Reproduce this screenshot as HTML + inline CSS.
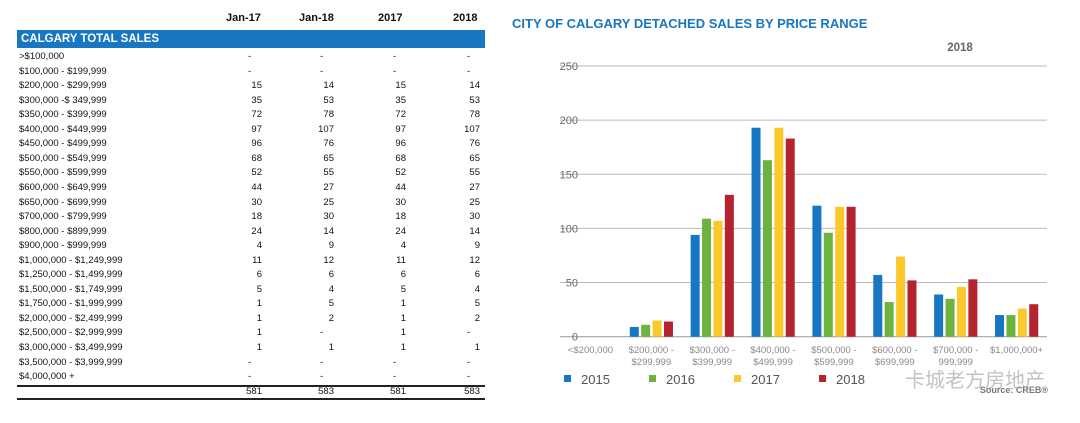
<!DOCTYPE html>
<html><head><meta charset="utf-8"><style>
body{margin:0;width:1080px;height:423px;background:#fff;position:relative;overflow:hidden;font-family:"Liberation Sans",sans-serif;color:#111}
.a{position:absolute;white-space:nowrap}
.h{font-weight:bold;font-size:11px;top:12px}
.c{font-size:9.5px}
</style></head><body>
<div class="a h" style="left:226px">Jan-17</div>
<div class="a h" style="left:299px">Jan-18</div>
<div class="a h" style="left:378px">2017</div>
<div class="a h" style="left:453px">2018</div>
<div class="a" style="left:17px;top:30px;width:468px;height:18px;background:#1877c2;color:#fff;font-weight:bold;font-size:11.5px;line-height:18px;padding-left:4px;box-sizing:border-box">CALGARY TOTAL SALES</div>
<div id="tbl"></div>
<div class="a" style="left:17px;top:385px;width:468px;height:1.5px;background:#222"></div>
<div class="a" style="left:17px;top:398px;width:468px;height:1.5px;background:#222"></div>
<div class="a" style="left:512px;top:16px;font-size:13px;font-weight:bold;color:#1877c2">CITY OF CALGARY DETACHED SALES BY PRICE RANGE</div>
<svg class="a" style="left:0;top:0" width="1080" height="423" id="ch"></svg>
<script>
const ranges=[">$100,000","$100,000 - $199,999","$200,000 - $299,999","$300,000 -$ 349,999","$350,000 - $399,999","$400,000 - $449,999","$450,000 - $499,999","$500,000 - $549,999","$550,000 - $599,999","$600,000 - $649,999","$650,000 - $699,999","$700,000 - $799,999","$800,000 - $899,999","$900,000 - $999,999","$1,000,000 - $1,249,999","$1,250,000 - $1,499,999","$1,500,000 - $1,749,999","$1,750,000 - $1,999,999","$2,000,000 - $2,499,999","$2,500,000 - $2,999,999","$3,000,000 - $3,499,999","$3,500,000 - $3,999,999","$4,000,000 +"];
const jan17=[0,0,15,35,72,97,96,68,52,44,30,18,24,4,11,6,5,1,1,1,1,0,0];
const jan18=[0,0,14,53,78,107,76,65,55,27,25,30,14,9,12,6,4,5,2,0,1,0,0];
const y2017=[0,0,15,35,72,97,96,68,52,44,30,18,24,4,11,6,5,1,1,1,1,0,0];
const y2018=[0,0,14,53,78,107,76,65,55,27,25,30,14,9,12,6,4,5,2,0,1,0,0];
const totals=[581,583,581,583];
const tbl=document.getElementById('tbl');
const colR=[262,334,406,480],colD=[248,320,393,467];
const cols=[jan17,jan18,y2017,y2018];
function cell(txt,left,top,right){const d=document.createElement('div');d.className='a c';d.textContent=txt;d.style.top=top+'px';if(right!=null){d.style.right=(1080-right)+'px'}else d.style.left=left+'px';tbl.appendChild(d);return d;}
ranges.forEach((r,i)=>{const t=51+i*14.55;
 const l=cell(r,19,t);
 
 
 cols.forEach((c,j)=>{const v=c[i];const d=v?cell(String(v),0,t,colR[j]):cell('-',colD[j],t);
  
  });});
totals.forEach((v,j)=>{const d=cell(String(v),0,386,colR[j]);
 
 });

const cats=["<$200,000","$200,000 -|$299,999","$300,000 -|$399,999","$400,000 -|$499,999","$500,000 -|$599,999","$600,000 -|$699,999","$700,000 -|999,999","$1,000,000+"];
const s2015=[0,9,94,193,121,57,39,20];
const s2016=[0,11,109,163,96,32,35,20];
const s2017=[0,15,107,193,120,74,46,26];
const s2018=[0,14,131,183,120,52,53,30];
const ticks=[0,50,100,150,200,250];
const seriesNames=["2015","2016","2017","2018"];
const colors=["#1877c2","#6db33f","#fcc92c","#b5232f"];
const X0=560,X1=1047,Y0=336.7,Y1=66;
const yS=v=>Y0-(v/250)*(Y0-Y1);
const gw=(X1-X0)/cats.length;
const xS=(g,s)=>X0+g*gw+8.9+s*11.4;
const svg=document.getElementById('ch');const NS='http://www.w3.org/2000/svg';
function mk(t,a,txt){const e=document.createElementNS(NS,t);for(const k in a)e.setAttribute(k,a[k]);if(txt!=null)e.textContent=txt;svg.appendChild(e);return e;}
const yr=mk('text',{x:960,y:51,'text-anchor':'middle','font-size':11.5,'font-weight':'bold',fill:'#666','font-family':'Liberation Sans'},'2018');


ticks.forEach(t=>{const y=yS(t);
 const g=mk('line',{x1:X0,x2:X1,y1:y,y2:y,stroke:t?'#bbb':'#999','stroke-width':1});
 
 
 const l=mk('text',{x:578,y:y+4,'text-anchor':'end','font-size':11,fill:'#666','font-family':'Liberation Sans'},String(t));
 
 });
[s2015,s2016,s2017,s2018].forEach((s,si)=>s.forEach((v,g)=>{if(!v)return;
 const r=mk('rect',{x:xS(g,si),y:yS(v),width:9,height:Y0-yS(v),fill:colors[si]});
 
 }));
cats.forEach((c,g)=>{const cx=X0+g*gw+gw/2;c.split('|').forEach((p,k)=>{
 const t=mk('text',{x:cx,y:353+k*12,'text-anchor':'middle','font-size':9.5,fill:'#888','font-family':'Liberation Sans'},p);
 
 });});
seriesNames.forEach((n,i)=>{const x=564+i*85;
 const r=mk('rect',{x:x,y:375,width:7,height:7,fill:colors[i]});
 
 
 const t=mk('text',{x:x+17,y:384,'font-size':13,fill:'#555','font-family':'Liberation Sans'},n);
 
 });
const src=mk('text',{x:1048,y:393,'text-anchor':'end','font-size':9,'font-weight':'bold',fill:'#777','font-family':'Liberation Sans'},'Source: CREB®');


const wm=mk('text',{x:1045,y:387,'text-anchor':'end','font-size':20,fill:'#999','fill-opacity':0.6,'font-family':'Noto Sans CJK SC, sans-serif'},'卡城老方房地产');


</script>
</body></html>
